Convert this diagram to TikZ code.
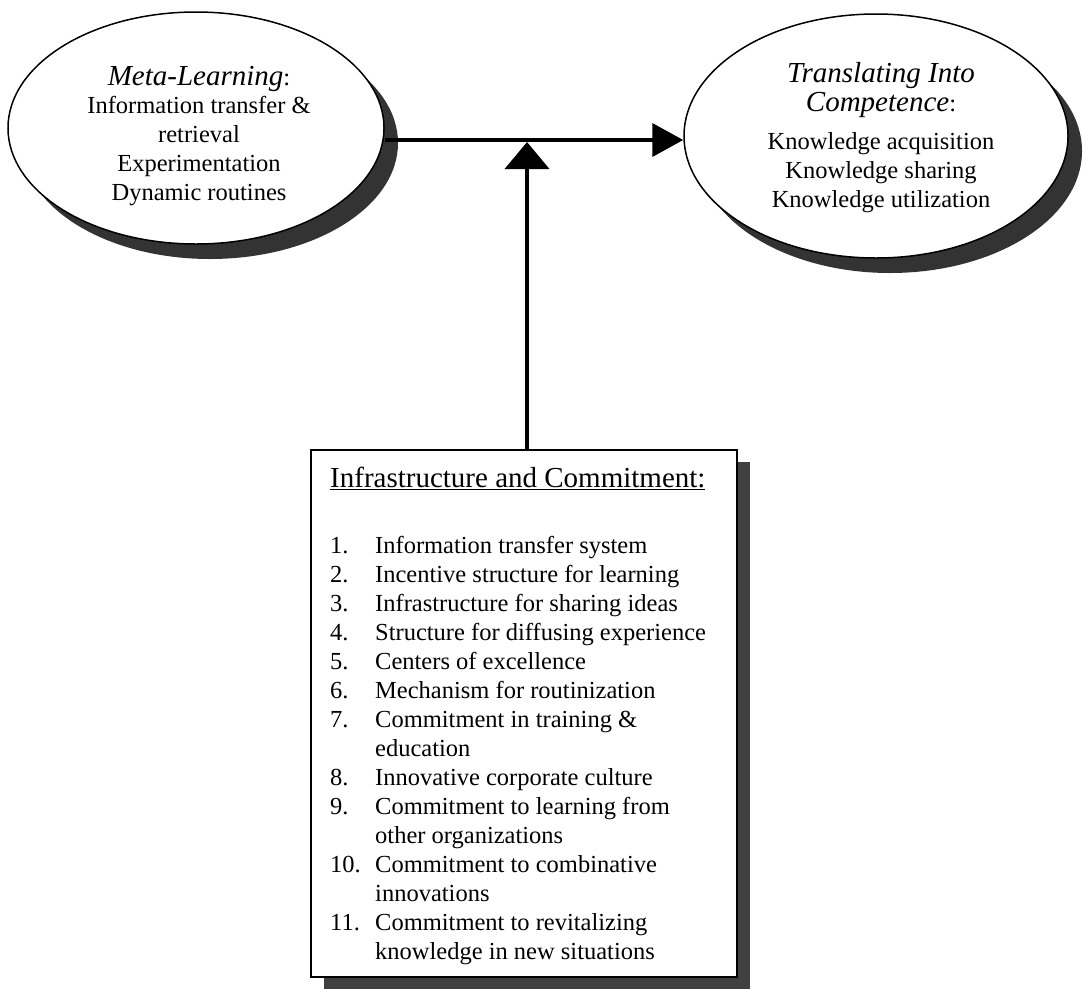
\documentclass[tikz,border=0pt]{standalone}
\usepackage{fontspec}
\setmainfont{Liberation Serif}
\usetikzlibrary{arrows.meta,shapes.geometric,shadows}

\tikzset{
  oval/.style={ellipse, draw=black, line width=1.5pt, fill=white, inner sep=0pt,
    drop shadow={shadow xshift=14pt, shadow yshift=-15pt, opacity=1, fill=black!80}},
  listbox/.style={rectangle, draw=black, line width=2.2pt, fill=white, inner sep=0pt,
    drop shadow={shadow xshift=13pt, shadow yshift=-12pt, opacity=1, fill=black!75}},
  body/.style={inner sep=0pt, align=center, font=\fontsize{24.5}{29}\selectfont},
  conn/.style={line width=4pt, -{Triangle[length=31pt, width=33pt]}},
  upconn/.style={line width=4pt, -{Triangle[length=27pt, width=44pt]}},
}
\newcommand{\headfont}{\fontsize{29}{29}\selectfont\itshape}

\begin{document}
\begin{tikzpicture}[x=1pt, y=-1pt]
\useasboundingbox (0,0) rectangle (1083,989);

% the two process ovals
\node[oval, minimum width=376pt, minimum height=232pt] (meta) at (196,128) {};
\node[oval, minimum width=384pt, minimum height=244pt] (comp) at (876,136) {};

% their texts (anchored on the baseline of the last line)
\node[body, anchor=base] (metatext) at (199,200)
  {{\headfont Meta-Learning}:\\[-1pt] Information transfer \&\\ retrieval\\ Experimentation\\ Dynamic routines};
\node[body, anchor=base] (comptext) at (881,207)
  {{\headfont Translating Into}\\[0pt] {\headfont Competence}:\\[9pt] Knowledge acquisition\\ Knowledge sharing\\ Knowledge utilization};

% the supporting box
\node[listbox, minimum width=426pt, minimum height=527pt] (infra) at (524,713.5) {};
\node[inner sep=0pt, anchor=base west, font=\fontsize{29}{29}\selectfont] (infrahead) at (330,487)
  {\underline{Infrastructure and Commitment:}};
\node[inner sep=0pt, anchor=base west, font=\fontsize{24.5}{29}\selectfont] (infralist) at (330,553)
  {\begin{tabular}[t]{@{}p{45pt}@{}l@{}}
   1. & Information transfer system\\
   2. & Incentive structure for learning\\
   3. & Infrastructure for sharing ideas\\
   4. & Structure for diffusing experience\\
   5. & Centers of excellence\\
   6. & Mechanism for routinization\\
   7. & Commitment in training \&\\
      & education\\
   8. & Innovative corporate culture\\
   9. & Commitment to learning from\\
      & other organizations\\
   10. & Commitment to combinative\\
      & innovations\\
   11. & Commitment to revitalizing\\
      & knowledge in new situations
  \end{tabular}};

% connectors
\coordinate (mid) at (527,140);
\coordinate (midlow) at (527,142);
\draw[conn] (meta.east |- mid) -- (comp.west |- mid);
\draw[upconn] (infra.north -| mid) -- (midlow);
\end{tikzpicture}
\end{document}
